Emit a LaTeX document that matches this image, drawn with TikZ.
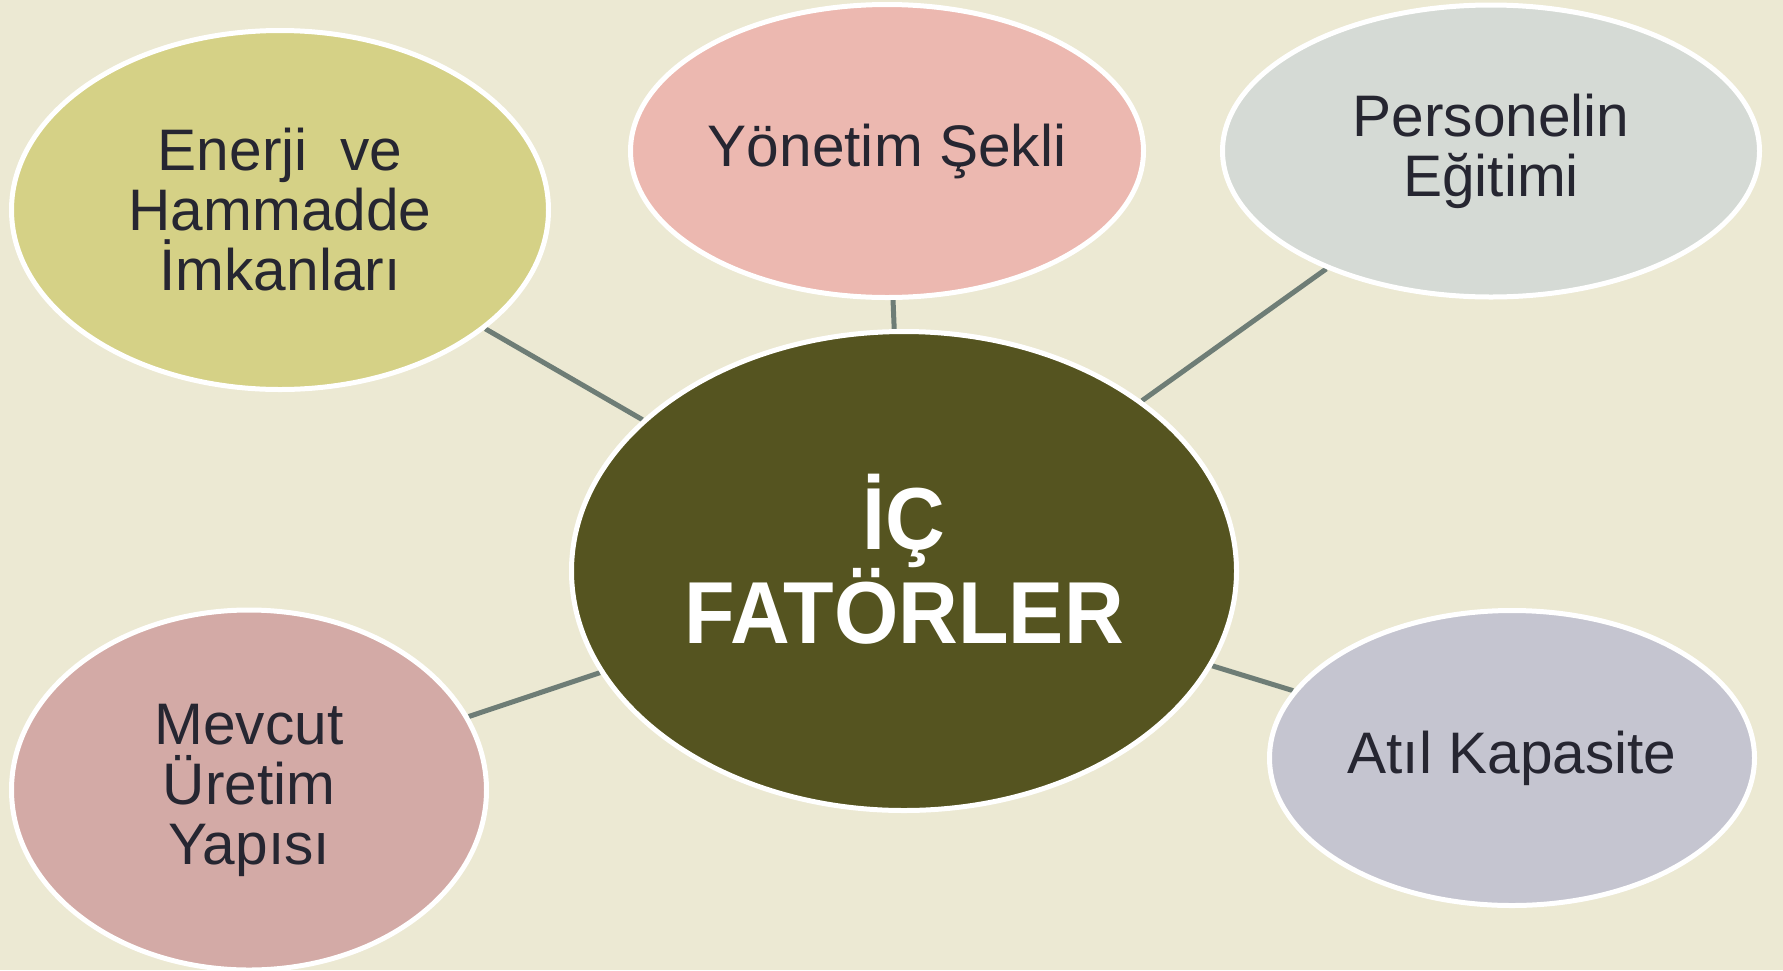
\documentclass[tikz,border=0pt]{standalone}
\usepackage{fontspec}
\setmainfont{Liberation Sans}
\usetikzlibrary{shapes.geometric,backgrounds}
\definecolor{bgc}{HTML}{ECE9D3}
\definecolor{txt}{HTML}{262631}
\definecolor{lnk}{HTML}{6E7D76}
\definecolor{cenerji}{HTML}{D5D186}
\definecolor{cyonetim}{HTML}{ECB8B0}
\definecolor{cpersonel}{HTML}{D5DAD5}
\definecolor{ccenter}{HTML}{555420}
\definecolor{cmevcut}{HTML}{D3AAA6}
\definecolor{catil}{HTML}{C5C5D0}
\begin{document}
\begin{tikzpicture}[x=1pt,y=-1pt,
  bub/.style={ellipse, draw=white, line width=5pt, text=txt, align=center, inner sep=0pt,
    font=\fontsize{58.6}{60}\selectfont},
  link/.style={draw=lnk, line width=5pt}]
\useasboundingbox (0,0) rectangle (1783,970);
\node[bub, fill=ccenter, text=white, minimum width=665pt, minimum height=479pt] (center) at (904,571) {};
\node[text=white, align=center, inner sep=0pt, font=\fontsize{88}{88}\selectfont\bfseries]
  (centertext) at (904,559) {\scalebox{0.94}[1]{İÇ}\\\scalebox{0.94}[1]{FATÖRLER}};
\node[bub, fill=cenerji, minimum width=537pt, minimum height=359pt] (enerji) at (280,210) {Enerji\ \ ve\\Hammadde\\İmkanları};
\node[bub, fill=cyonetim, minimum width=513pt, minimum height=293pt] (yonetim) at (887,151) {Yönetim Şekli};
\node[bub, fill=cpersonel, minimum width=537pt, minimum height=292pt] (personel) at (1491,151) {Personelin\\Eğitimi};
\node[bub, fill=cmevcut, minimum width=475pt, minimum height=360pt] (mevcut) at (249,790) {Mevcut\\Üretim\\Yapısı};
\node[bub, fill=catil, minimum width=485pt, minimum height=295pt] (atil) at (1512,758) {Atıl Kapasite};
\begin{scope}[on background layer]
  \fill[bgc] (0,0) rectangle (1783,970);
  \draw[link] (center) -- (enerji);
  \draw[link] (center) -- (yonetim);
  \draw[link] (center) -- (personel);
  \draw[link] (center) -- (mevcut);
  \draw[link] (center) -- (atil);
\end{scope}
\end{tikzpicture}
\end{document}
